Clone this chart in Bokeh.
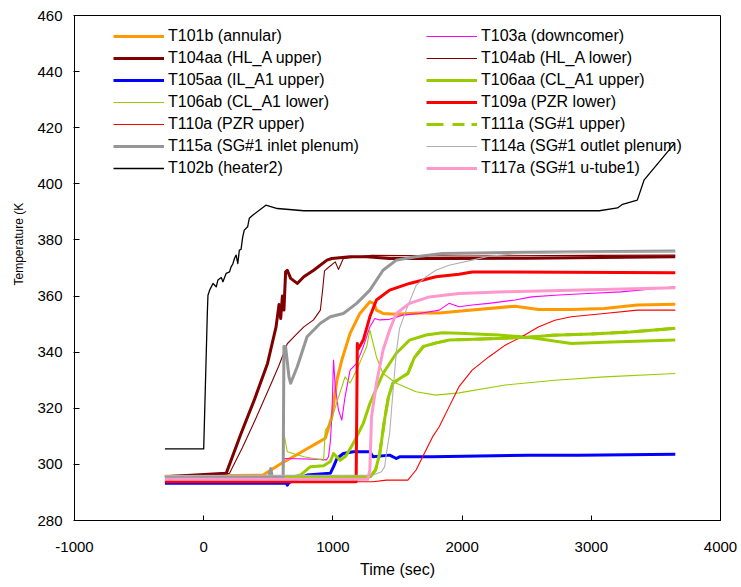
from bokeh.plotting import figure
from bokeh.models import Legend, LegendItem, FixedTicker, Range1d, Title
from bokeh.embed import file_html
from bokeh.resources import INLINE

# ---------------- data ----------------
x_ticks = [-1000, 0, 1000, 2000, 3000, 4000]
x_tick_labels = ["-1000", "0", "1000", "2000", "3000", "4000"]
y_ticks = [280, 300, 320, 340, 360, 380, 400, 420, 440, 460]
y_tick_labels = ["280", "300", "320", "340", "360", "380", "400", "420", "440", "460"]

t_T101b = [-300, 460, 520, 600, 700, 800, 900, 941, 992, 1031, 1069, 1133, 1209, 1286, 1317, 1337, 1388, 1491, 1669, 1823, 2078, 2411, 2590, 2845, 3101, 3357, 3650]
v_T101b = [295.8, 296.2, 298.0, 300.3, 302.9, 305.6, 308.2, 309.3, 317.0, 330.0, 337.2, 346.7, 353.8, 358.0, 357.4, 355.0, 353.8, 353.5, 354.0, 354.0, 355.0, 356.4, 355.2, 355.2, 355.6, 356.8, 357.1]

t_T103a = [-300, 615, 621, 647, 903, 950, 966, 980, 992, 1005, 1018, 1043, 1069, 1094, 1133, 1184, 1235, 1286, 1324, 1360, 1439, 1541, 1669, 1823, 1899, 1976, 2078, 2206, 2411, 2538, 2718, 2973, 3229, 3650]
v_T103a = [295.5, 295.5, 302.1, 302.1, 301.8, 301.6, 302.7, 308.0, 317.0, 337.2, 327.7, 319.4, 315.8, 324.1, 333.6, 336.0, 341.9, 349.0, 352.0, 351.5, 351.7, 353.2, 353.8, 355.0, 357.4, 356.2, 356.8, 357.4, 358.6, 359.7, 360.3, 360.9, 361.5, 363.3]

t_T104aa = [-300, 174, 289, 391, 494, 560, 583, 596, 609, 621, 634, 647, 673, 724, 775, 851, 954, 992, 1133, 1261, 1439, 1899, 2500, 3650]
v_T104aa = [295.6, 296.8, 311.0, 322.9, 336.0, 349.0, 357.0, 352.0, 360.0, 355.0, 368.6, 369.2, 366.3, 364.5, 366.9, 369.2, 372.8, 373.4, 374.0, 374.0, 373.4, 373.4, 373.5, 374.0]

t_T104ab = [-300, 200, 300, 400, 519, 580, 647, 700, 775, 850, 903, 920, 935, 960, 1018, 1043, 1081, 1300, 2000, 3000, 3650]
v_T104ab = [295.6, 296.8, 306.0, 316.0, 328.5, 335.0, 343.0, 345.5, 349.0, 351.5, 355.0, 362.0, 369.0, 370.0, 372.2, 369.5, 373.4, 374.5, 374.3, 374.5, 374.6]

t_T105aa = [-300, 600, 640, 647, 660, 800, 980, 1005, 1031, 1081, 1158, 1286, 1311, 1439, 1491, 1516, 1771, 2513, 2897, 3650]
v_T105aa = [293.3, 293.3, 293.3, 292.6, 293.5, 296.2, 296.8, 299.2, 302.1, 303.9, 304.5, 304.5, 302.7, 303.3, 302.1, 302.7, 302.7, 303.3, 303.3, 303.6]

t_T106aa = [-300, 700, 749, 826, 928, 980, 1005, 1056, 1100, 1158, 1235, 1286, 1388, 1491, 1593, 1721, 1848, 1976, 2283, 2513, 2845, 3100, 3650]
v_T106aa = [295.6, 295.6, 296.2, 299.2, 299.5, 301.0, 303.9, 301.5, 303.0, 307.5, 314.6, 321.7, 332.4, 339.6, 344.3, 346.1, 346.9, 346.7, 346.1, 345.3, 343.1, 343.5, 344.3]

t_T106ab = [-300, 615, 621, 647, 775, 928, 941, 980, 1030, 1094, 1133, 1184, 1261, 1286, 1337, 1388, 1491, 1644, 1797, 1976, 2334, 2718, 3101, 3650]
v_T106ab = [295.6, 295.6, 311.0, 304.5, 302.7, 301.5, 312.2, 314.6, 322.0, 331.2, 329.0, 333.6, 341.9, 347.9, 338.3, 332.4, 328.9, 325.9, 324.7, 325.5, 328.3, 330.0, 331.2, 332.4]

t_T109a = [-300, 1180, 1189, 1195, 1235, 1286, 1337, 1439, 1593, 1797, 1976, 2078, 3650]
v_T109a = [293.8, 293.8, 343.1, 341.0, 344.3, 352.6, 358.6, 362.1, 364.5, 366.9, 367.8, 368.6, 368.3]

t_T110a = [-300, 1311, 1414, 1580, 1644, 1771, 1823, 1899, 1976, 2078, 2206, 2334, 2462, 2590, 2718, 2845, 3101, 3357, 3650]
v_T110a = [293.8, 293.8, 294.4, 294.4, 298.0, 309.8, 313.4, 320.5, 327.7, 333.6, 338.3, 342.5, 345.5, 349.0, 351.4, 352.6, 353.8, 355.0, 355.0]

t_T111a = [-300, 1290, 1330, 1363, 1400, 1430, 1465, 1530, 1580, 1630, 1700, 1800, 1899, 2283, 2513, 2700, 3000, 3300, 3650]
v_T111a = [295.6, 295.6, 298.0, 304.0, 316.0, 324.0, 329.0, 331.0, 332.4, 338.0, 342.0, 343.3, 344.3, 344.9, 345.3, 346.0, 346.5, 347.2, 348.5]

t_T115a = [-300, 505, 519, 530, 615, 621, 634, 660, 673, 724, 800, 903, 980, 1081, 1184, 1286, 1388, 1491, 1644, 1848, 2500, 3650]
v_T115a = [295.6, 295.6, 298.5, 295.6, 295.6, 342.0, 341.9, 331.2, 328.9, 334.8, 345.5, 350.3, 352.6, 353.8, 357.4, 362.1, 369.2, 372.8, 374.0, 375.2, 375.6, 376.1]

t_T114a = [-300, 1311, 1376, 1401, 1414, 1439, 1465, 1491, 1516, 1567, 1644, 1721, 1797, 1899, 2078, 2206, 2400, 2800, 3650]
v_T114a = [296.0, 296.2, 297.4, 299.2, 303.9, 311.0, 326.0, 340.0, 348.5, 355.0, 363.8, 366.9, 369.2, 371.0, 372.8, 374.2, 375.0, 375.5, 375.8]

t_T102b = [-300, 0, 28, 33, 46, 72, 97, 110, 136, 149, 174, 200, 212, 225, 238, 251, 264, 276, 289, 302, 314, 340, 353, 379, 481, 570, 775, 3063, 3203, 3242, 3356, 3408, 3648]
v_T102b = [305.5, 305.5, 353.8, 360.3, 362.1, 364.5, 363.3, 365.7, 366.6, 365.1, 368.1, 368.6, 370.4, 371.4, 373.4, 374.6, 371.6, 376.4, 376.6, 381.1, 383.5, 384.7, 387.7, 388.8, 392.4, 391.2, 390.4, 390.4, 391.4, 392.7, 394.2, 401.3, 414.6]

t_T117a = [-300, 1270, 1286, 1299, 1337, 1388, 1439, 1491, 1593, 1746, 1976, 2334, 2845, 3650]
v_T117a = [294.7, 294.7, 298.0, 317.0, 328.9, 340.7, 347.9, 353.8, 357.4, 359.7, 360.9, 361.5, 362.1, 363.0]

# ---------------- figure ----------------
FONT = "Liberation Sans"
p = figure(width=741, height=587, output_backend="svg", toolbar_location=None,
           x_range=Range1d(-1000, 4000), y_range=Range1d(280, 460),
           min_border_left=74, min_border_right=21, min_border_top=15, min_border_bottom=67)
p.background_fill_color = "white"
p.border_fill_color = "white"
p.outline_line_color = "black"
p.outline_line_width = 1
p.xgrid.visible = False
p.ygrid.visible = False

p.xaxis.ticker = FixedTicker(ticks=x_ticks)
p.yaxis.ticker = FixedTicker(ticks=y_ticks)
p.xaxis.major_label_overrides = dict(zip(x_ticks, x_tick_labels))
p.yaxis.major_label_overrides = dict(zip(y_ticks, y_tick_labels))
for ax in (p.xaxis, p.yaxis):
    ax.axis_line_color = "black"
    ax.axis_line_width = 1
    ax.major_tick_line_color = "black"
    ax.minor_tick_line_color = None
    ax.major_tick_in = 5
    ax.major_label_text_font = FONT
    ax.major_label_text_font_size = "15px"
    ax.major_label_text_color = "black"
    ax.axis_label_text_font = FONT
    ax.axis_label_text_font_style = "normal"
    ax.axis_label_text_color = "black"
p.xaxis.major_tick_out = 0
p.yaxis.major_tick_out = 1
p.xaxis.major_label_standoff = 21
p.yaxis.major_label_standoff = 11
p.xaxis.axis_label = "Time (sec)"
p.xaxis.axis_label_text_font_size = "16px"
p.xaxis.axis_label_standoff = 6

ytitle = Title(text="Temperature (K", align="left", offset=235, standoff=17,
               text_font=FONT, text_font_size="12px", text_font_style="normal",
               text_color="black")
p.add_layout(ytitle, "left")

ORANGE = "#FF9900"; MAGENTA = "#FF00FF"; DARKRED = "#800000"; BLUE = "#0000FF"
GREEN = "#99CC00"; RED = "#FF0000"; GRAY = "#969696"; LGRAY = "#B0B0B0"; PINK = "#FF99CC"
THICK = 3
THIN = 1.1

series = [
    ("T101b (annular)", t_T101b, v_T101b, ORANGE, THICK, "solid"),
    ("T103a (downcomer)", t_T103a, v_T103a, MAGENTA, THIN, "solid"),
    ("T104aa (HL_A upper)", t_T104aa, v_T104aa, DARKRED, THICK, "solid"),
    ("T104ab (HL_A lower)", t_T104ab, v_T104ab, DARKRED, THIN, "solid"),
    ("T105aa (IL_A1 upper)", t_T105aa, v_T105aa, BLUE, THICK, "solid"),
    ("T106aa (CL_A1 upper)", t_T106aa, v_T106aa, GREEN, THICK, "solid"),
    ("T106ab (CL_A1 lower)", t_T106ab, v_T106ab, GREEN, THIN, "solid"),
    ("T109a (PZR lower)", t_T109a, v_T109a, RED, THICK, "solid"),
    ("T110a (PZR upper)", t_T110a, v_T110a, RED, THIN, "solid"),
    ("T111a (SG#1 upper)", t_T111a, v_T111a, GREEN, THICK, "17 9 12 7"),
    ("T115a (SG#1 inlet plenum)", t_T115a, v_T115a, GRAY, THICK, "solid"),
    ("T114a (SG#1 outlet plenum)", t_T114a, v_T114a, LGRAY, THIN, "solid"),
    ("T102b (heater2)", t_T102b, v_T102b, "black", 1.3, "solid"),
    ("T117a (SG#1 u-tube1)", t_T117a, v_T117a, PINK, THICK, "solid"),
]

left_items, right_items = [], []
for i, (name, tt, vv, col, lw, dash) in enumerate(series):
    leg_r = None
    if dash != "solid":
        # dashed stroke of the series (its key in the legend); the dense measured
        # trace reads as a solid stroke, drawn over it with the same data
        leg_r = p.line(tt, vv, line_color=col, line_width=lw, line_dash=dash)
    r = p.line(tt, vv, line_color=col, line_width=lw, line_join="round")
    item = LegendItem(label=name, renderers=[leg_r if leg_r is not None else r])
    (left_items if i % 2 == 0 else right_items).append(item)

for items, xloc in ((left_items, 39), (right_items, 352)):
    lg = Legend(items=items, location=(xloc, 342), orientation="vertical",
                border_line_color=None, background_fill_alpha=0,
                padding=0, margin=0, spacing=2, glyph_width=51, glyph_height=20,
                label_height=20, label_standoff=4,
                label_text_font=FONT, label_text_font_size="16px", label_text_color="black")
    p.add_layout(lg)

open("out.html", "w").write(file_html(p, INLINE))
